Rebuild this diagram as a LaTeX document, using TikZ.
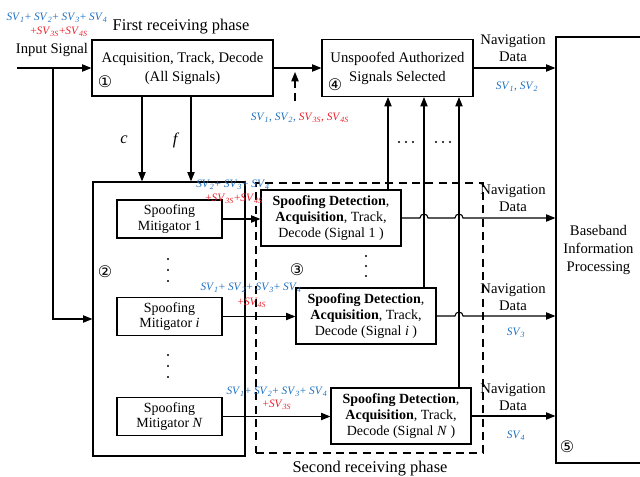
\documentclass[tikz,border=0pt]{standalone}
\usepackage{fontspec}
\setmainfont{Liberation Serif}
\newfontfamily\circfont{DejaVu Sans}
\usetikzlibrary{arrows.meta,calc}
\definecolor{svblue}{RGB}{30,112,192}
\definecolor{svred}{RGB}{235,35,45}
\newcommand{\SV}[1]{\textit{SV}\textsubscript{\textit{#1}}}
\begin{document}
\begin{tikzpicture}[x=0.75pt,y=-0.75pt,
  box/.style={draw,line width=0.9pt,align=center,inner sep=0pt,font=\fontsize{11}{14.25}\selectfont},
  mbox/.style={box,minimum width={105*0.75pt},minimum height={38*0.75pt},font=\fontsize{10.5}{11.5}\selectfont},
  dbox/.style={box,minimum width={140*0.75pt},minimum height={56*0.75pt},font=\fontsize{10.5}{12}\selectfont},
  arr/.style={line width=0.8pt,-{Triangle[length=7pt,width=5.5pt]}},
  lbl/.style={font=\fontsize{11}{13}\selectfont,align=center,inner sep=0pt},
  ttl/.style={font=\fontsize{12.3}{14}\selectfont,align=center,inner sep=0pt},
  svl/.style={font=\fontsize{8.5}{10}\selectfont,inner sep=0pt},
  num/.style={font=\circfont\fontsize{12}{12}\selectfont,inner sep=0pt},
  dashln/.style={dash pattern=on 6pt off 4pt}]
\useasboundingbox (0,0) rectangle (640,477);

% main boxes
\node[box,minimum width={181*0.75pt},minimum height={56*0.75pt}] (acq) at (182.5,68) {Acquisition, Track, Decode\\(All Signals)};
\node[box,minimum width={151*0.75pt},minimum height={57*0.75pt}] (sel) at (397.5,68) {Unspoofed Authorized\\Signals Selected};
\node[box,minimum width={85*0.75pt},minimum height={426*0.75pt},font=\fontsize{11}{13.5}\selectfont] (bb) at (598.5,250) {Baseband\\Information\\Processing};
\node[box,minimum width={152*0.75pt},minimum height={274*0.75pt}] (mit) at (169,319) {};
\node[mbox] (m1) at (169.5,219) {Spoofing\\Mitigator 1};
\node[mbox] (mi) at (169.5,316.5) {Spoofing\\Mitigator \textit{i}};
\node[mbox] (mn) at (169.5,416.5) {Spoofing\\Mitigator \textit{N}};
\node[draw,line width=0.8pt,dashln,minimum width={227*0.75pt},minimum height={270*0.75pt},inner sep=0pt] (ph2) at (369.5,318) {};
\node[dbox] (d1) at (331,218) {\textbf{Spoofing Detection},\\\textbf{Acquisition}, Track,\\Decode (Signal 1 )};
\node[dbox] (di) at (366,316) {\textbf{Spoofing Detection},\\\textbf{Acquisition}, Track,\\Decode (Signal \textit{i} )};
\node[dbox] (dn) at (401,416) {\textbf{Spoofing Detection},\\\textbf{Acquisition}, Track,\\Decode (Signal \textit{N} )};

% helper coordinates
\coordinate (in) at (17,68);
\coordinate (br) at (53,68);
\coordinate (cx) at (142,0);
\coordinate (fx) at (191,0);
\coordinate (dsv) at (295,101);
\coordinate (dtop) at (295,72);
\coordinate (u1) at (388,0);
\coordinate (u2) at (424,0);
\coordinate (u3) at (459,0);

% connectors
\draw[arr] (in) -- (acq.west);
\draw[arr] (br) |- (mit.west);
\draw[arr] (acq.south -| cx) -- (mit.north -| cx);
\draw[arr] (acq.south -| fx) -- (mit.north -| fx);
\draw[arr] (acq.east) -- (sel.west);
\draw[arr,dashln] (dsv) -- (dtop);
\draw[arr] (sel.east) -- (sel.east -| bb.west);
\draw[arr] (m1.east) -- (d1.west |- m1.east);
\draw[arr] (mi.east) -- (di.west |- mi.east);
\draw[arr] (mn.east) -- (dn.west |- mn.east);
\draw[arr] (d1.north -| u1) -- (sel.south -| u1);
\draw[arr] (di.north -| u2) -- (sel.south -| u2);
\draw[arr] (dn.north -| u3) -- (sel.south -| u3);
\draw[arr] (d1.east) -- ($(d1.east -| u2)+(-4,0)$) arc[start angle=180,end angle=0,radius=3pt]
  -- ($(d1.east -| u3)+(-4,0)$) arc[start angle=180,end angle=0,radius=3pt] -- (d1.east -| bb.west);
\draw[arr] (di.east) -- ($(di.east -| u3)+(-4,0)$) arc[start angle=180,end angle=0,radius=3pt] -- (di.east -| bb.west);
\draw[arr] (dn.east) -- (dn.east -| bb.west);

% dots
\foreach \y in {259,270,281,355,366,377} \fill (168,\y) circle[radius=0.9pt];
\foreach \y in {256,266,276} \fill (366,\y) circle[radius=0.9pt];
\foreach \x in {399,406,413,436,443,450} \fill (\x,142) circle[radius=0.9pt];

% texts
\node[ttl] (t1) at (181,27) {First receiving phase};
\node[lbl] (t2) at (52,50) {Input Signal};
\node[ttl] (t3) at (370,469) {Second receiving phase};
\node[ttl] (cl) at (124,140) {\textit{c}};
\node[ttl] (fl) at (176,140) {\textit{f}};
\node[lbl,font=\fontsize{11}{12.75}\selectfont] (n1) at (513,48.5) {Navigation\\Data};
\node[lbl,font=\fontsize{11}{12.75}\selectfont] (n2) at (513,198.5) {Navigation\\Data};
\node[lbl,font=\fontsize{11}{12.75}\selectfont] (n3) at (513,297) {Navigation\\Data};
\node[lbl,font=\fontsize{11}{12.75}\selectfont] (n4) at (513,397) {Navigation\\Data};

\node[svl,text=svblue] (s1) at (57,18) {\SV{1}+ \SV{2}+ \SV{3}+ \SV{4}};
\node[svl,text=svred] (s2) at (59,32) {+\SV{3S}+\SV{4S}};
\node[svl] (s3) at (300,118) {\textcolor{svblue}{\SV{1}, \SV{2},} \textcolor{svred}{\SV{3S}, \SV{4S}}};
\node[svl,text=svblue] (s4) at (517,87) {\SV{1}, \SV{2}};
\node[svl,text=svblue] (s5) at (516,333) {\SV{3}};
\node[svl,text=svblue] (s6) at (516,436) {\SV{4}};
\node[svl,text=svblue] (s7) at (233,185) {\SV{2}+ \SV{3}+ \SV{4}};
\node[svl,text=svred] (s8) at (234,199) {+\SV{3S}+\SV{4S}};
\node[svl,text=svblue] (s9) at (251,288) {\SV{1}+ \SV{2}+ \SV{3}+ \SV{4}};
\node[svl,text=svred] (s10) at (252,303) {+\SV{4S}};
\node[svl,text=svblue] (s11) at (277,392) {\SV{1}+ \SV{2}+ \SV{3}+ \SV{4}};
\node[svl,text=svred] (s12) at (277,405) {+\SV{3S}};

\node[num] (c1) at (105,82) {①};
\node[num] (c2) at (105,272) {②};
\node[num] (c3) at (297,270) {③};
\node[num] (c4) at (335,85) {④};
\node[num] (c5) at (567,447) {⑤};
\end{tikzpicture}
\end{document}
